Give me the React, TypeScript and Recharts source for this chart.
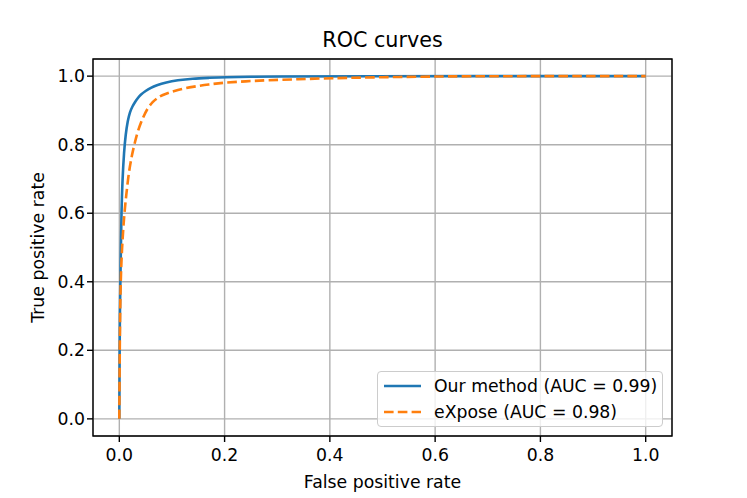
import { LineChart, Line, XAxis, YAxis, CartesianGrid, ReferenceArea, Label } from "recharts"

const ourX = [0, 0.0003, 0.0006, 0.001, 0.002, 0.003, 0.004, 0.006, 0.009, 0.012, 0.016, 0.02, 0.025, 0.03, 0.035, 0.04, 0.05, 0.06, 0.07, 0.089, 0.11, 0.139, 0.17, 0.2, 0.25, 0.3, 0.4, 1]
const ourY = [0, 0.1, 0.2, 0.3, 0.4, 0.5, 0.6, 0.7, 0.78, 0.83, 0.87, 0.895, 0.912, 0.925, 0.936, 0.945, 0.957, 0.966, 0.973, 0.982, 0.988, 0.993, 0.995, 0.997, 0.998, 0.999, 1, 1]

const exposeX = [0, 0.0004, 0.0008, 0.0015, 0.0025, 0.005, 0.0095, 0.013, 0.018, 0.024, 0.0285, 0.035, 0.044, 0.053, 0.063, 0.075, 0.089, 0.11, 0.139, 0.17, 0.2, 0.24, 0.28, 0.34, 0.4, 0.5, 0.6, 0.7, 1]
const exposeY = [0, 0.1, 0.2, 0.3, 0.4, 0.5, 0.6, 0.65, 0.72, 0.77, 0.8, 0.84, 0.876, 0.905, 0.925, 0.94, 0.949, 0.96, 0.969, 0.976, 0.981, 0.985, 0.988, 0.991, 0.994, 0.997, 0.999, 1, 1]

const ticks = [0, 0.2, 0.4, 0.6, 0.8, 1.0]

const ourData = ourX.map((x, i) => ({ x, y: ourY[i] }))
const exposeData = exposeX.map((x, i) => ({ x, y: exposeY[i] }))

const font = "'DejaVu Sans', sans-serif"
const tickStyle = { fontSize: 17.3, fill: "#000", fontFamily: font }

function LegendBox() {
  const row = (label: string, color: string, dash?: string) => (
    <div style={{ display: "flex", alignItems: "center", height: 26, whiteSpace: "nowrap" }}>
      <svg width={40} height={10} style={{ marginLeft: 5, marginRight: 11, flex: "none" }}>
        <line x1={1} y1={5} x2={38} y2={5} stroke={color} strokeWidth={2.6} strokeDasharray={dash} />
      </svg>
      <span>{label}</span>
    </div>
  )
  return (
    <div
      style={{
        position: "absolute",
        left: 377,
        top: 371,
        width: 286,
        height: 56,
        border: "1px solid #cccccc",
        borderRadius: 4,
        background: "rgba(255,255,255,0.8)",
        fontFamily: font,
        fontSize: 17.3,
        color: "#000",
        paddingTop: 1,
        boxSizing: "border-box",
      }}
    >
      {row("Our method (AUC = 0.99)", "#1f77b4")}
      {row("eXpose (AUC = 0.98)", "#ff7f0e", "9.6 4.2")}
    </div>
  )
}

export default function App() {
  return (
    <div style={{ position: "absolute", left: 0, top: 0, width: 747, height: 498, background: "#fff", fontFamily: font }}>
      <div
        style={{
          position: "absolute",
          left: 93,
          width: 579,
          top: 26,
          textAlign: "center",
          fontSize: 20.7,
          lineHeight: "28px",
          color: "#000",
        }}
      >
        ROC curves
      </div>
      <LineChart width={747} height={498} margin={{ top: 59, right: 75, bottom: 0, left: 0 }}>
        <CartesianGrid stroke="#b0b0b0" strokeWidth={1.4} />
        <XAxis
          type="number"
          dataKey="x"
          domain={[-0.05, 1.05]}
          ticks={ticks}
          allowDataOverflow
          height={62}
          axisLine={false}
          tickSize={6}
          tickMargin={7}
          tickLine={{ stroke: "#000", strokeWidth: 1.4 }}
          tick={tickStyle}
          tickFormatter={(v: number) => v.toFixed(1)}
        >
          <Label value="False positive rate" position="insideBottom" offset={10} style={{ fontSize: 17.3, fill: "#000", fontFamily: font }} />
        </XAxis>
        <YAxis
          type="number"
          dataKey="y"
          domain={[-0.05, 1.05]}
          ticks={ticks}
          allowDataOverflow
          width={93}
          axisLine={false}
          tickSize={6}
          tickMargin={2}
          tickLine={{ stroke: "#000", strokeWidth: 1.4 }}
          tick={tickStyle}
          tickFormatter={(v: number) => v.toFixed(1)}
        >
          <Label value="True positive rate" angle={-90} position="insideLeft" offset={38} style={{ textAnchor: "middle", fontSize: 17.3, fill: "#000", fontFamily: font }} />
        </YAxis>
        <Line data={ourData} dataKey="y" type="basis" stroke="#1f77b4" strokeWidth={2.6} dot={false} isAnimationActive={false} />
        <Line data={exposeData} dataKey="y" type="basis" stroke="#ff7f0e" strokeWidth={2.6} strokeDasharray="9.6 4.2" dot={false} isAnimationActive={false} />
        <ReferenceArea x1={-0.05} x2={1.05} y1={-0.05} y2={1.05} fill="none" fillOpacity={0} stroke="#000" strokeWidth={1.4} />
      </LineChart>
      <LegendBox />
    </div>
  )
}
